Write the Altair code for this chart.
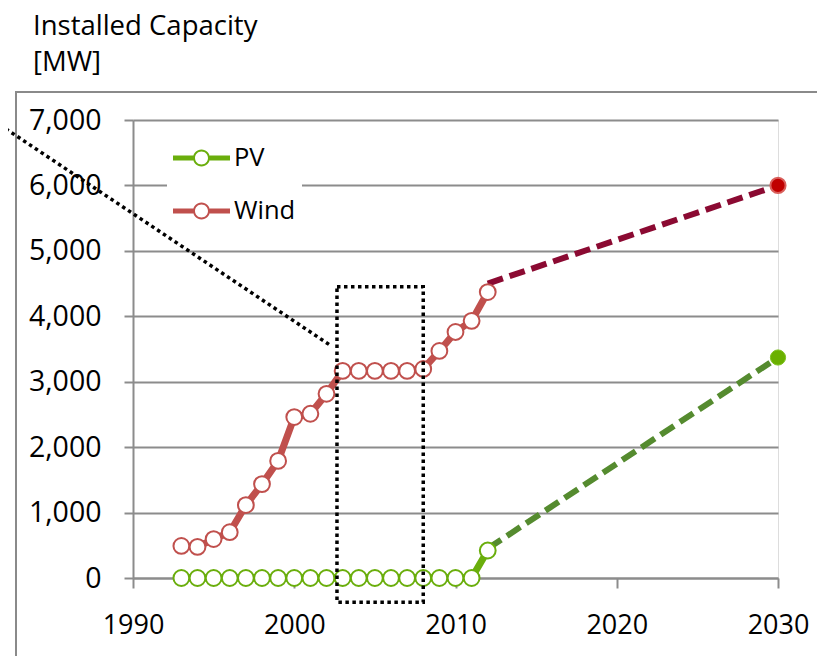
import altair as alt
import pandas as pd

# ---------------- data ----------------
years = list(range(1993, 2013))
wind = [490, 475, 595, 700, 1115, 1435, 1790, 2460, 2510, 2815,
        3165, 3165, 3165, 3165, 3165, 3195, 3470, 3760, 3930, 4370]
pv = [0] * 19 + [420]

proj_years = [2012, 2030]
wind_proj = [4500, 6000]
pv_proj = [450, 3370]

x_ticks = [1990, 2000, 2010, 2020, 2030]
y_ticks = [0, 1000, 2000, 3000, 4000, 5000, 6000, 7000]
series_names = ["PV", "Wind"]

callout_years = [1981.75, 2002.3]
callout_values = [6925, 3546]
box_year, box_year2 = [2002.65], [2008.0]
box_value, box_value2 = [4450], [-370]

title_lines = ["Installed Capacity", "[MW]"]

# ---------------- style ----------------
FONT = "Open Sans"
GRAY = "#8c8c8c"
PV_C = "#6aae0c"
PV_DASH = "#558b2f"
PV_END = "#6ab000"
WIND_C = "#c0504d"
WIND_DASH = "#8b0a32"
WIND_END = "#c00000"

LEG_PATH = ("M-1,-0.088H-0.29V0.088H-1Z M0.29,-0.088H1V0.088H0.29Z "
            "M0.298,0A0.298,0.298 0 1,1 -0.298,0A0.298,0.298 0 1,1 0.298,0Z "
            "M0.228,0A0.228,0.228 0 1,0 -0.228,0A0.228,0.228 0 1,0 0.228,0Z")

x_scale = alt.Scale(domain=[1990, 2030], nice=False, zero=False)
y_scale = alt.Scale(domain=[0, 7000], nice=False, zero=False)

x_axis = alt.Axis(values=x_ticks, format="d", grid=False, title=None,
                  tickSize=10, tickColor=GRAY, tickWidth=2,
                  domainColor=GRAY, domainWidth=2,
                  labelFont=FONT, labelFontSize=27, labelColor="black",
                  labelPadding=24, labelFlush=False)
y_axis = alt.Axis(values=y_ticks, format=",.0f", grid=True, title=None,
                  gridColor=GRAY, gridWidth=2,
                  tickSize=9, tickColor=GRAY, tickWidth=2,
                  domainColor=GRAY, domainWidth=2,
                  labelFont=FONT, labelFontSize=28.5, labelColor="black",
                  labelPadding=23)


def X(field="year"):
    return alt.X(f"{field}:Q", scale=x_scale, axis=x_axis)


def Y(field="value"):
    return alt.Y(f"{field}:Q", scale=y_scale, axis=y_axis)


wind_df = pd.DataFrame({"year": years, "value": wind})
pv_df = pd.DataFrame({"year": years, "value": pv})
wind_proj_df = pd.DataFrame({"year": proj_years, "value": wind_proj})
pv_proj_df = pd.DataFrame({"year": proj_years, "value": pv_proj})
callout_df = pd.DataFrame({"year": callout_years, "value": callout_values})
box_df = pd.DataFrame({"year": box_year, "year2": box_year2,
                       "value": box_value, "value2": box_value2})
legend_df = pd.DataFrame({"series": series_names, "year": [1990, 1990], "value": [0, 0]})
frame_df = pd.DataFrame({"k": [0]})

frame = alt.Chart(frame_df).mark_rect(fill=None, stroke="#8a8a8a", strokeWidth=2).encode(
    x=alt.value(-117), x2=alt.value(720), y=alt.value(-28), y2=alt.value(600))

wind_line = alt.Chart(wind_df).mark_line(color=WIND_C, strokeWidth=7).encode(x=X(), y=Y())
pv_line = alt.Chart(pv_df).mark_line(color=PV_C, strokeWidth=7).encode(x=X(), y=Y())
wind_dash = alt.Chart(wind_proj_df).mark_line(color=WIND_DASH, strokeWidth=6,
                                              strokeDash=[16, 7]).encode(x=X(), y=Y())
pv_dash = alt.Chart(pv_proj_df).mark_line(color=PV_DASH, strokeWidth=6,
                                          strokeDash=[16, 7]).encode(x=X(), y=Y())

wind_pts = alt.Chart(wind_df).mark_circle(size=250, fill="white", stroke=WIND_C,
                                          strokeWidth=2, opacity=1).encode(x=X(), y=Y())
pv_pts = alt.Chart(pv_df).mark_circle(size=250, fill="white", stroke=PV_C,
                                      strokeWidth=2, opacity=1).encode(x=X(), y=Y())

wind_end = alt.Chart(wind_proj_df).transform_filter("datum.year == 2030").mark_circle(
    size=230, fill=WIND_END, stroke="#d9605c", strokeWidth=2, opacity=1).encode(x=X(), y=Y())
pv_end = alt.Chart(pv_proj_df).transform_filter("datum.year == 2030").mark_circle(
    size=230, fill=PV_END, stroke="#7cc11a", strokeWidth=1, opacity=1).encode(x=X(), y=Y())

callout = alt.Chart(callout_df).mark_line(color="black", strokeWidth=3.5,
                                          strokeDash=[3.5, 3.5]).encode(x=X(), y=Y())
box = alt.Chart(box_df).mark_rect(fill=None, stroke="black", strokeWidth=3.5,
                                  strokeDash=[3.5, 3.5]).encode(
    x=X(), x2="year2:Q", y=Y(), y2="value2:Q")

legend_layer = alt.Chart(legend_df).transform_filter("false").mark_point(
    filled=True, shape=LEG_PATH, size=3249, opacity=1).encode(
    x=X(), y=Y(),
    color=alt.Color("series:N",
                    scale=alt.Scale(domain=series_names, range=[PV_C, WIND_C]),
                    legend=alt.Legend(orient="none", legendX=34, legendY=3.5,
                                      title=None, symbolType=LEG_PATH, symbolSize=3249,
                                      symbolStrokeWidth=0, fillColor="white",
                                      padding=6, rowPadding=11,
                                      labelFont=FONT, labelFontSize=25.5,
                                      labelColor="black", labelOffset=4)))

chart = alt.layer(
    frame, wind_line, pv_line, wind_dash, pv_dash, wind_pts, pv_pts,
    wind_end, pv_end, callout, box, legend_layer
).properties(
    width=645, height=458,
    autosize=alt.AutoSizeParams(type="none"),
    padding={"left": 125, "top": 112, "right": 39, "bottom": 78},
    title=alt.TitleParams(title_lines, anchor="start", frame="group", dx=-100,
                          font=FONT, fontSize=27.5, fontWeight="normal",
                          color="black", lineHeight=36, offset=15),
).configure_view(stroke=None).configure(background="white")

chart.save("out.html", embed_options={"renderer": "svg", "actions": False})
